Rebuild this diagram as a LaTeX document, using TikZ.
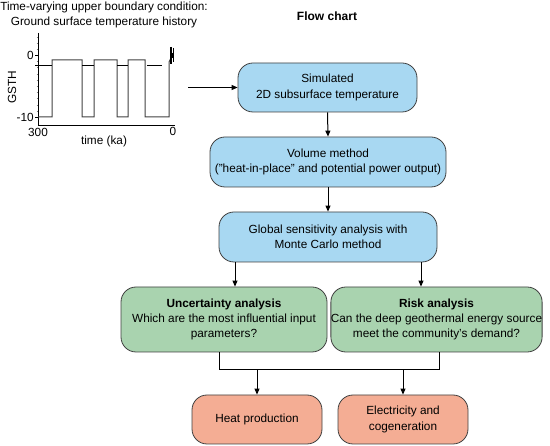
\documentclass[tikz,border=0pt]{standalone}
\usepackage{fontspec}
\setmainfont{Liberation Sans}
\usetikzlibrary{arrows.meta,calc}
\definecolor{boxblue}{HTML}{A8D8F2}
\definecolor{boxgreen}{HTML}{A9D3AF}
\definecolor{boxorange}{HTML}{F4AD94}
\definecolor{edgec}{HTML}{404040}
\begin{document}
\begin{tikzpicture}[x=1pt,y=-1pt,
  fc/.style={draw=edgec, line width=0.8pt, rounded corners=15pt, align=center, inner sep=0pt, font=\fontsize{11.8}{15.3}\selectfont},
  bluebox/.style={fc, fill=boxblue},
  greenbox/.style={fc, fill=boxgreen},
  orangebox/.style={fc, fill=boxorange},
  arr/.style={-{Triangle[length=6pt,width=5pt]}, line width=1pt, black},
  ln/.style={line width=1pt, black},
  lbl/.style={font=\fontsize{11.8}{13}\selectfont, inner sep=0pt},
  wave/.style={line width=1pt, edgec}]
\useasboundingbox (0,0) rectangle (550,446);

% titles
\node[lbl] (t1) at (104,7) {Time-varying upper boundary condition:};
\node[lbl] (t2) at (104,22) {Ground surface temperature history};
\node[lbl, font=\fontsize{12}{13}\selectfont\bfseries] (fc) at (327,16) {Flow chart};

% plot
\draw[line width=0.9pt] (38,33) -- (38,125) -- (175,125);
\foreach \yy in {37,43.2,49.4,61.4,67.6,73.8,80,86.2,92.4,98.6,104.8,111}
  \draw[line width=0.4pt, gray] (36.5,\yy) -- (38,\yy);
\draw[line width=0.8pt] (35,55) -- (38,55);
\draw[line width=0.8pt] (35,117) -- (38,117);
\node[lbl, anchor=east] (y0) at (34,55) {0};
\node[lbl, anchor=east] (y10) at (34,117.5) {-10};
\node[lbl] (x300) at (38,132) {300};
\node[lbl] (x0) at (173,131) {0};
\node[lbl] (xl) at (104,141) {time (ka)};
\node[lbl, rotate=90] (yl) at (12,87) {GSTH};
\draw[wave] (38,117) -- (52,117) -- (52,60) -- (82,60) -- (82,117) -- (94,117) -- (94,60) -- (117,60) -- (117,117) -- (128,117) -- (128,60) -- (145,60) -- (145,117) -- (169,117) -- (169,62) -- (171,58);
\draw[line width=1pt] (35,66) -- (52,66) (82,66) -- (94,66) (117,66) -- (128,66) (147,66) -- (162,66);
\draw[line width=1.2pt] (171,47) -- (171,64) (173.5,48) -- (173.5,62);
\fill (170.5,53) rectangle (174,58);

% boxes
\node[bluebox, minimum width=179pt, minimum height=49pt] (sim) at (327.5,87.5) {Simulated\\2D subsurface temperature};
\node[bluebox, minimum width=236pt, minimum height=50pt] (vol) at (328,162) {Volume method\\(''heat-in-place'' and potential power output)};
\node[bluebox, minimum width=218pt, minimum height=50pt] (glob) at (328,237) {Global sensitivity analysis with\\Monte Carlo method};
\node[greenbox, minimum width=206pt, minimum height=65pt] (unc) at (224,319.5) {\textbf{Uncertainty analysis}\\Which are the most influential input\\parameters?};
\node[greenbox, minimum width=211pt, minimum height=65pt] (risk) at (436.5,319.5) {\textbf{Risk analysis}\\Can the deep geothermal energy source\\meet the community’s demand?};
\node[orangebox, minimum width=130pt, minimum height=49pt] (heat) at (257,419.5) {Heat production};
\node[orangebox, minimum width=130pt, minimum height=49pt] (elec) at (403,419.5) {Electricity and\\cogeneration};

% connectors
\coordinate (gsrc) at (188,87.5);
\draw[arr] (gsrc) -- (sim.west);
\draw[arr] (sim.south) -- (vol.north);
\draw[arr] (vol.south) -- (glob.north);
\coordinate (xa) at (235,0);
\coordinate (xb) at (421,0);
\draw[arr] (glob.south -| xa) -- (unc.north -| xa);
\draw[arr] (glob.south -| xb) -- (risk.north -| xb);
\coordinate (jl) at (219,370);
\coordinate (jr) at (439,370);
\draw[ln] (unc.south -| jl) -- (jl) -- (jr) -- (risk.south -| jr);
\coordinate (dh) at (257,370);
\coordinate (de) at (403,370);
\draw[arr] (dh) -- (heat.north);
\draw[arr] (de) -- (elec.north);
\end{tikzpicture}
\end{document}
